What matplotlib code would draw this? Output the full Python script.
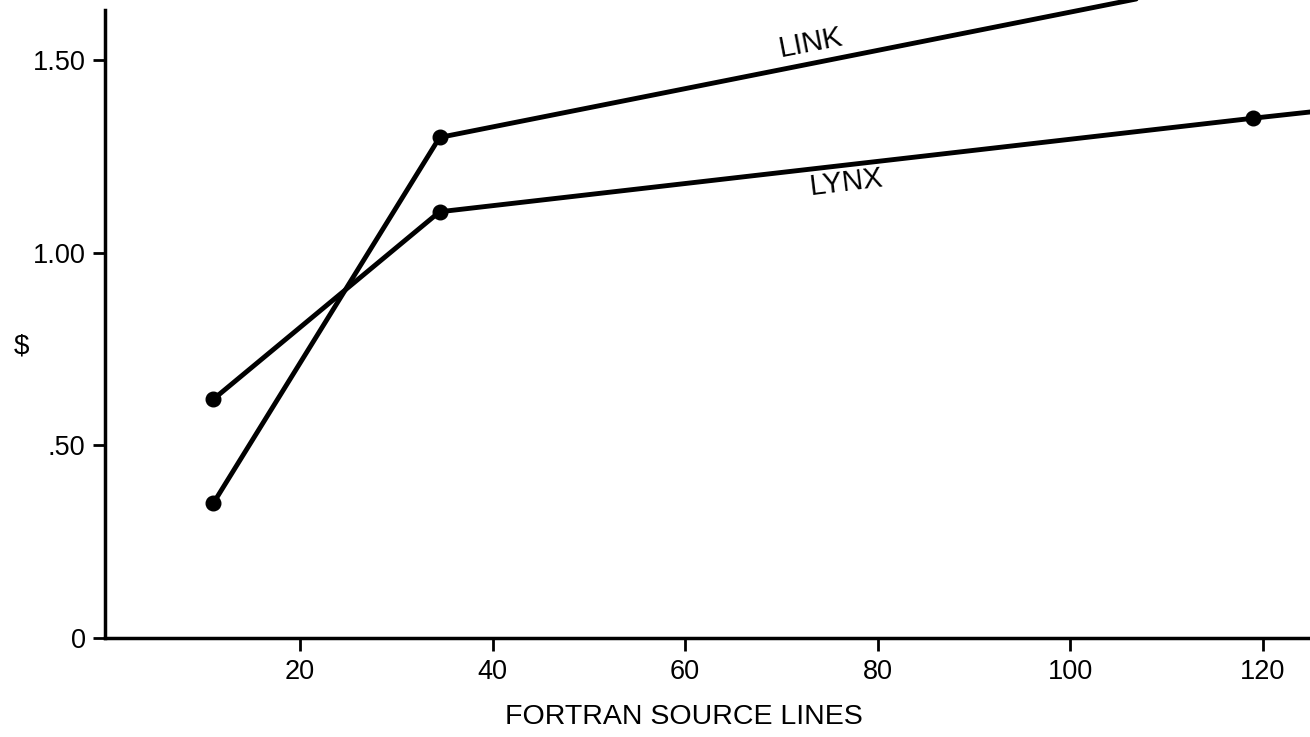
import matplotlib.pyplot as plt

plt.rcParams['font.family'] = ['Liberation Sans', 'DejaVu Sans']

# lineas fuente FORTRAN vs costo
link_x = [11, 34.5, 119]
link_y = [0.35, 1.30, 1.72]
lynx_x = [11, 34.5, 119, 130]
lynx_y = [0.62, 1.107, 1.35, 1.38]
lynx_marks = 3  # el ultimo punto queda fuera del cuadro

x_ticks = [20, 40, 60, 80, 100, 120]
y_ticks = [0, 0.5, 1.0, 1.5]
y_labels = ['0', '.50', '1.00', '1.50']

fig = plt.figure(figsize=(13.1, 7.37), dpi=100)
ax = fig.add_axes([105/1310, 99/737, 1205/1310, 638/737])

ax.plot(link_x, link_y, color='black', lw=3.5, solid_capstyle='round',
        marker='o', ms=10.5, mfc='black', mec='black')
ax.plot(lynx_x, lynx_y, color='black', lw=3.5, solid_capstyle='round')
ax.plot(lynx_x[:lynx_marks], lynx_y[:lynx_marks], 'o', ms=10.5,
        mfc='black', mec='black')

ax.set_xlim(-0.25, 124.9)
ax.set_ylim(0, 1.657)

ax.spines['top'].set_visible(False)
ax.spines['right'].set_visible(False)
ax.spines['left'].set_bounds(0, 1.631)
for s in ['left', 'bottom']:
    ax.spines[s].set_linewidth(2.5)

ax.set_xticks(x_ticks)
ax.set_xticklabels([str(v) for v in x_ticks])
ax.set_yticks(y_ticks)
ax.set_yticklabels(y_labels)
ax.tick_params(axis='both', direction='out', length=9, width=2,
               labelsize=19.5)
ax.tick_params(axis='x', pad=6)
ax.tick_params(axis='y', pad=5)

ax.text(73.1, 1.545, 'LINK', fontsize=21, rotation=11, ha='center',
        va='center', rotation_mode='anchor')
ax.text(76.7, 1.182, 'LYNX', fontsize=21, rotation=7, ha='center',
        va='center', rotation_mode='anchor')

fig.text(21/1310, 1 - 347/737, '$', fontsize=20, ha='center', va='center')
fig.text(684/1310, 1 - 717/737, 'FORTRAN SOURCE LINES', fontsize=20.5,
         ha='center', va='center')

fig.savefig('out.png', dpi=100)
